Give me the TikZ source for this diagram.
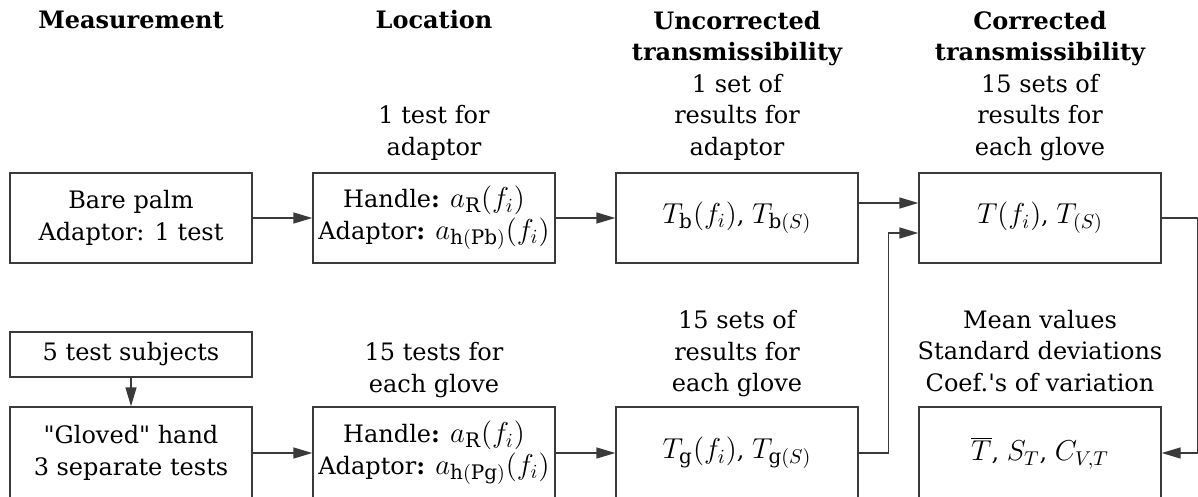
\documentclass[tikz,border=0pt]{standalone}
\usepackage{fontspec}
\setmainfont{DejaVu Serif}[Ligatures=TeX]
\DeclareMathSizes{12}{14.4}{10}{7}
\usepackage{tikz}
\usetikzlibrary{arrows.meta}
\definecolor{lineGray}{HTML}{3A3A3A}
\newcommand{\chartfont}{\rmfamily\fontsize{12}{15.75}\selectfont}

\begin{document}
\begin{tikzpicture}[x=0.5pt, y=-0.5pt,
  box/.style={draw=lineGray, line width=0.7pt, minimum width=121pt, minimum height=45pt,
    align=center, inner sep=0pt, font=\chartfont},
  lbl/.style={align=center, inner sep=0pt, font=\chartfont},
  head/.style={align=center, inner sep=0pt, font=\chartfont\bfseries},
  flow/.style={draw=lineGray, line width=0.7pt, -{Triangle[length=9.5pt,width=5.5pt]}}]
  \useasboundingbox (0,0) rectangle (1198,497);

  % Column titles
  \node[head] (hmeas) at (131,20) {Measurement};
  \node[head] (hloc) at (434,20) {Location};
  \node[head] (hunc) at (737,38.4) {Uncorrected\\transmissibility};
  \node[head] (hcorr) at (1040,38.4) {Corrected\\transmissibility};

  % Notes above the adaptor row
  \node[lbl] (nlocb) at (434,133) {1 test for\\adaptor};
  \node[lbl] (nuncb) at (737,117.2) {1 set of\\results for\\adaptor};
  \node[lbl] (ncorr) at (1040,117.2) {15 sets of\\results for\\each glove};

  % Adaptor row
  \node[box] (bare) at (131,218) {Bare palm\\Adaptor: 1 test};
  \node[box] (locb) at (434,218) {Handle\textbf{:} $a_{\mathrm{R}}(f_i)$\\Adaptor\textbf{:} $a_{\mathrm{h(Pb)}}(f_i)$};
  \node[box] (uncb) at (737,218) {$T_{\mathrm{b}}(f_i)$, $T_{\mathrm{b}(S)}$};
  \node[box] (corr) at (1040,218) {$T(f_i)$, $T_{(S)}$};

  % Notes above the glove row
  \node[box, minimum height=22.5pt] (subj) at (131,354.5) {5 test subjects};
  \node[lbl] (nlocg) at (434,369.8) {15 tests for\\each glove};
  \node[lbl] (nuncg) at (737,353.8) {15 sets of\\results for\\each glove};
  \node[lbl] (nstat) at (1040,350.6) {Mean values\\Standard deviations\\Coef.\textquotesingle s of variation};

  % Glove row
  \node[box, minimum height=46pt] (glov) at (131,453) {\textquotedbl Gloved\textquotedbl{} hand\\3 separate tests};
  \node[box, minimum height=46pt] (locg) at (434,453) {Handle\textbf{:} $a_{\mathrm{R}}(f_i)$\\Adaptor\textbf{:} $a_{\mathrm{h(Pg)}}(f_i)$};
  \node[box, minimum height=46pt] (uncg) at (737,453) {$T_{\mathrm{g}}(f_i)$, $T_{\mathrm{g}(S)}$};
  \node[box, minimum height=46pt] (stat) at (1040,453) {$\overline{T}$, $S_T$, $C_{V,T}$};

  % Connectors
  \draw[flow] (bare) -- (locb);
  \draw[flow] (locb) -- (uncb);
  \draw[flow] ([yshift=7.5pt]uncb.east) -- ([yshift=7.5pt]corr.west);
  \draw[flow] (uncg.east) -- ++(30,0) |- ([yshift=-7.5pt]corr.west);
  \draw[flow] (corr.east) -- ++(36,0) |- (stat.east);
  \draw[flow] (subj) -- (glov);
  \draw[flow] (glov) -- (locg);
  \draw[flow] (locg) -- (uncg);
\end{tikzpicture}
\end{document}
